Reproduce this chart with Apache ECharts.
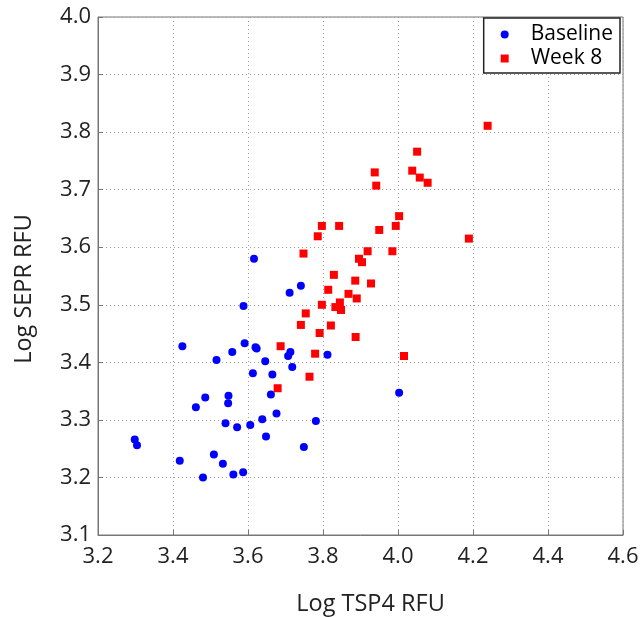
<!DOCTYPE html>
<html><head><meta charset="utf-8">
<script src="https://cdn.jsdelivr.net/npm/echarts@6/dist/echarts.min.js"></script>
<style>html,body{margin:0;padding:0;background:#fff}#c{width:642px;height:617px}</style>
</head><body><div id="c"></div>
<script>
const baselineX = [3.298,3.304,3.418,3.425,3.480,3.461,3.486,3.509,3.516,3.533,3.540,3.547,3.548,3.558,3.561,3.571,3.587,3.588,3.591,3.606,3.613,3.616,3.620,3.623,3.638,3.646,3.648,3.661,3.665,3.676,3.707,3.711,3.713,3.718,3.741,3.749,3.781,3.812,4.003];
const baselineY = [3.266,3.256,3.229,3.428,3.200,3.322,3.339,3.240,3.404,3.224,3.294,3.329,3.342,3.418,3.205,3.287,3.209,3.498,3.433,3.291,3.381,3.580,3.426,3.424,3.301,3.402,3.271,3.344,3.379,3.311,3.411,3.521,3.418,3.392,3.533,3.253,3.298,3.413,3.347];
const week8X = [3.679,3.687,3.741,3.748,3.754,3.764,3.779,3.786,3.791,3.797,3.797,3.814,3.821,3.829,3.833,3.843,3.845,3.848,3.868,3.886,3.887,3.890,3.896,3.904,3.919,3.928,3.938,3.942,3.950,3.985,3.994,4.003,4.016,4.038,4.051,4.058,4.079,4.189,4.239];
const week8Y = [3.355,3.428,3.465,3.589,3.485,3.375,3.415,3.619,3.451,3.637,3.500,3.526,3.464,3.552,3.496,3.637,3.504,3.491,3.519,3.542,3.444,3.511,3.580,3.574,3.593,3.537,3.730,3.707,3.630,3.593,3.637,3.654,3.411,3.733,3.766,3.721,3.712,3.615,3.811];
const seriesNames = ['Baseline','Week 8'];

const zip = (a,b)=>a.map((v,i)=>[v,b[i]]);
const font = '"Open Sans", sans-serif';
const gridLine = {show:true, lineStyle:{color:'#a0a0a0', type:[1,3], width:1}};
const chart = echarts.init(document.getElementById('c'));
chart.setOption({
  animation:false,
  grid:{left:98, right:19, top:17, bottom:82, show:true, borderColor:'#777', borderWidth:1, containLabel:false, outerBoundsMode:'none'},
  legend:{
    right:22, top:18, orient:'vertical', itemGap:3,
    backgroundColor:'#fff', borderColor:'#222', borderWidth:1.5,
    padding:[6,7,4,17], itemWidth:8, itemHeight:8,
    textStyle:{fontFamily:font, fontSize:21, lineHeight:21, color:'#000', padding:[0,0,0,17]},
    data:[{name:seriesNames[0], icon:'circle'},{name:seriesNames[1], icon:'rect'}]
  },
  xAxis:{
    type:'value', min:3.2, max:4.6, interval:0.2,
    name:'Log TSP4 RFU', nameLocation:'middle', nameGap:57,
    nameTextStyle:{fontFamily:font, fontSize:23.5, color:'#222', padding:[0,0,0,20]},
    axisLine:{lineStyle:{color:'#777'}},
    axisTick:{inside:true, length:5, lineStyle:{color:'#777'}},
    axisLabel:{fontFamily:font, fontSize:22, color:'#222', margin:11, formatter:v=>v.toFixed(1)},
    splitLine:gridLine
  },
  yAxis:{
    type:'value', min:3.1, max:4.0, interval:0.1,
    name:'Log SEPR RFU', nameLocation:'middle', nameGap:62,
    nameTextStyle:{fontFamily:font, fontSize:23.5, color:'#222', padding:[0,26,0,0]},
    axisLine:{lineStyle:{color:'#777'}},
    axisTick:{inside:true, length:5, lineStyle:{color:'#777'}},
    axisLabel:{fontFamily:font, fontSize:22, color:'#222', margin:7, formatter:v=>v.toFixed(1)},
    splitLine:gridLine
  },
  series:[
    {name:seriesNames[0], type:'scatter', symbol:'circle', symbolSize:8, itemStyle:{color:'#0000ff', opacity:1}, data:zip(baselineX, baselineY)},
    {name:seriesNames[1], type:'scatter', symbol:'rect', symbolSize:8, itemStyle:{color:'#ff0000', opacity:1}, data:zip(week8X, week8Y)}
  ]
});
</script></body></html>
